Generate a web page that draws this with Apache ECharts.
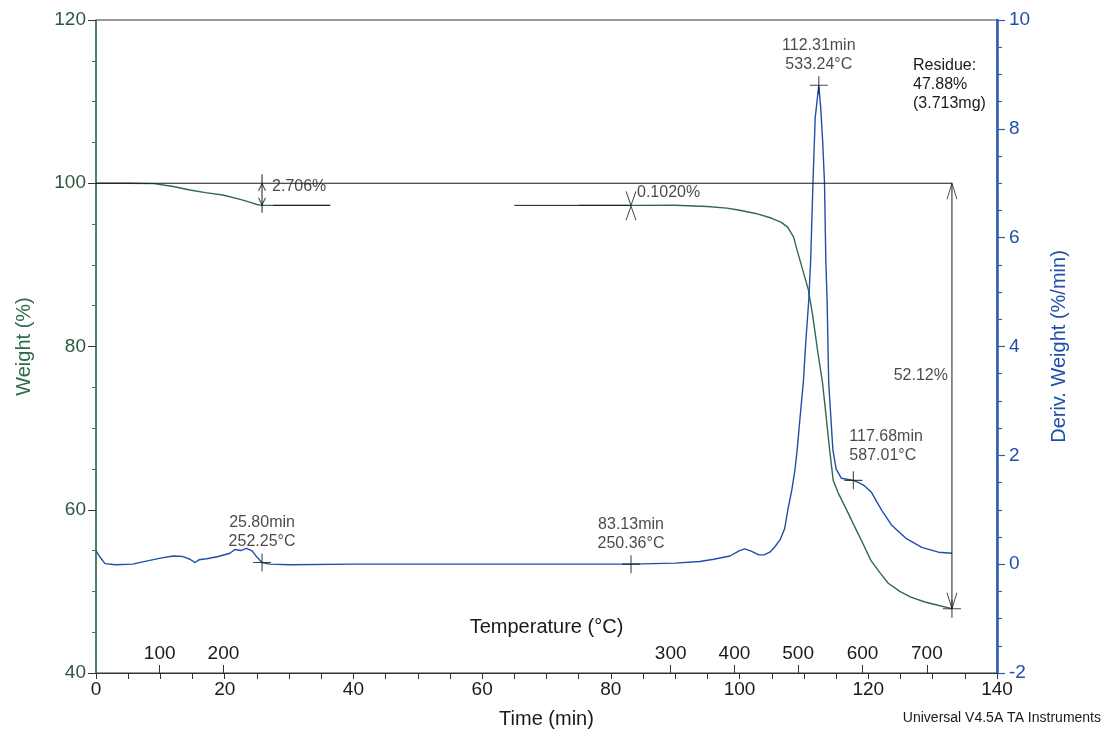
<!DOCTYPE html>
<html><head><meta charset="utf-8">
<script src="https://cdn.jsdelivr.net/npm/echarts@6/dist/echarts.min.js"></script>
<style>html,body{margin:0;padding:0;background:#fff}#c{width:1107px;height:738px}</style>
</head><body><div id="c"></div>
<script>
// ---- data ----
const weightTime = [0, 5, 9, 12, 14.6, 17, 19.7, 22.4, 24, 25, 25.8, 30, 36.4, 65, 75, 83.13, 83.4, 90, 95, 98, 99.8, 102.5, 104.9, 106.5, 107.5, 108.4, 108.9, 109.7, 110.7, 111.4, 112.1, 112.9, 113.45, 114.0, 114.55, 115.3, 116.5, 117.9, 119.2, 120.4, 121.8, 123.1, 124.9, 126.6, 128.8, 130.8, 133];
const weightPct  = [100, 100, 99.95, 99.6, 99.17, 98.85, 98.56, 98.03, 97.65, 97.4, 97.29, 97.29, 97.29, null, 97.29, 97.29, 97.3, 97.3, 97.15, 96.95, 96.72, 96.3, 95.74, 95.2, 94.6, 93.4, 91.9, 89.7, 86.9, 83.6, 79.6, 75.5, 71.4, 67.3, 63.6, 62.1, 60.2, 57.9, 55.8, 53.8, 52.3, 51.0, 50.0, 49.3, 48.7, 48.3, 47.88];

const derivTime = [0, 0.5, 1.4, 3, 5.7, 8, 10, 12, 13.5, 14.6, 15.4, 16, 17.2, 19, 20.8, 21.6, 22.5, 23.4, 24.3, 25, 25.8, 27, 30, 40, 50, 60, 70, 83.13, 90, 93.8, 96, 98.5, 100, 100.8, 101.8, 103, 103.8, 104.7, 105.5, 106.3, 107, 107.5, 108.1, 108.6, 108.95, 109.4, 109.9, 110.3, 110.75, 111.05, 111.4, 111.75, 112.31, 112.6, 112.9, 113.2, 113.4, 113.6, 113.85, 114.5, 115.0, 115.8, 117.68, 118.5, 119.3, 120.5, 121.3, 122.1, 123.6, 125.8, 128.3, 130.9, 133];
const derivVal  = [0.25, 0.15, 0.01, -0.01, 0.0, 0.06, 0.11, 0.15, 0.14, 0.09, 0.03, 0.08, 0.1, 0.14, 0.2, 0.27, 0.25, 0.29, 0.24, 0.13, 0.03, 0.0, -0.01, 0.0, 0.0, 0.0, 0.0, 0.0, 0.02, 0.05, 0.09, 0.15, 0.25, 0.28, 0.24, 0.17, 0.17, 0.22, 0.32, 0.45, 0.65, 1.0, 1.35, 1.73, 2.1, 2.7, 3.33, 4.1, 4.85, 5.59, 7.0, 8.2, 8.8, 8.4, 7.8, 7.0, 5.59, 4.85, 3.33, 2.1, 1.75, 1.58, 1.54, 1.5, 1.45, 1.32, 1.15, 0.99, 0.72, 0.48, 0.31, 0.22, 0.2];

// temperature (°C) tick labels placed at the time where they occur
const tempTickTimes  = [9.9, 19.8, 89.3, 99.2, 109.1, 119.1, 129.1];
const tempTickLabels = ['100', '200', '300', '400', '500', '600', '700'];

// peak / onset markers on the derivative curve
const peakTimes    = [25.8, 83.13, 112.31, 117.68];
const peakDerivs   = [0.03, 0.0, 8.8, 1.54];
const peakTimeText = ['25.80min', '83.13min', '112.31min', '117.68min'];
const peakTempText = ['252.25°C', '250.36°C', '533.24°C', '587.01°C'];

// weight-step annotations
const stepTimes  = [25.8, 83.13];
const stepUpper  = [100, 97.29];
const stepLower  = [97.29, 97.19];
const stepTexts  = ['2.706%', '0.1020%'];
const flatSegStart = [27.5, 65];
const flatSegEnd   = [36.4, 83.13];
const flatLevel    = 97.29;

// residue annotation
const startWeight   = 100;
const residueTime   = 133;
const residueWeight = 47.88;
const lossText      = '52.12%';
const lossLabelAt   = 76.4;
const residueText   = ['Residue:', '47.88%', '(3.713mg)'];

// ---- styles ----
const FONT = 'Liberation Sans, Arial, sans-serif';
const GREEN = '#2e6b48';
const GREEN_TXT = '#2c5a40';
const BLUE = '#1f4fa8';
const BLUE_AX = '#2a5cb8';
const BLACK = '#1a1a1a';

const CROSS = 'path://M0,10L20,10M10,0L10,20';
const CHEV_UP = 'path://M0,10L5,0L10,10';
const CHEV_DOWN = 'path://M0,0L5,10L10,0';

function seg(points, yAxisIndex) {
  return {
    type: 'line', xAxisIndex: 0, yAxisIndex: yAxisIndex || 0, data: points,
    symbol: 'none', silent: true, animation: false,
    lineStyle: { color: BLACK, width: 1 }, z: 5
  };
}

const series = [];
series.push({
  type: 'line', xAxisIndex: 0, yAxisIndex: 0, symbol: 'none', animation: false,
  data: weightTime.map((t, i) => [t, weightPct[i] === null ? '-' : weightPct[i]]),
  lineStyle: { color: GREEN, width: 1.4 }, z: 3
});
series.push({
  type: 'line', xAxisIndex: 0, yAxisIndex: 1, symbol: 'none', animation: false,
  data: derivTime.map((t, i) => [t, derivVal[i]]),
  lineStyle: { color: BLUE, width: 1.4 }, z: 4
});
// 100% reference line
series.push(seg([[0, startWeight], [residueTime, startWeight]]));
// flat black overlay segments
flatSegStart.forEach((s, i) => series.push(seg([[s, flatLevel], [flatSegEnd[i], flatLevel]])));
// first step: vertical bar
series.push(seg([[stepTimes[0], stepUpper[0] + 1.1], [stepTimes[0], stepLower[0] - 0.9]]));
// total loss arrow line
series.push(seg([[residueTime, startWeight], [residueTime, residueWeight]]));

// chevrons
const chevData = [
  { value: [stepTimes[0], stepUpper[0]], symbol: CHEV_UP, symbolSize: [7, 7], symbolOffset: [0, 4] },
  { value: [stepTimes[0], stepLower[0]], symbol: CHEV_DOWN, symbolSize: [7, 7], symbolOffset: [0, -4] },
  { value: [stepTimes[1], stepUpper[1]], symbol: CHEV_DOWN, symbolSize: [10, 14], symbolOffset: [0, -7] },
  { value: [stepTimes[1], stepLower[1]], symbol: CHEV_UP, symbolSize: [10, 14], symbolOffset: [0, 7] },
  { value: [residueTime, startWeight], symbol: CHEV_UP, symbolSize: [10, 16], symbolOffset: [0, 8] },
  { value: [residueTime, residueWeight], symbol: CHEV_DOWN, symbolSize: [10, 16], symbolOffset: [0, -8] },
  { value: [residueTime, residueWeight], symbol: CROSS, symbolSize: [18, 18] }
];
series.push({
  type: 'scatter', xAxisIndex: 0, yAxisIndex: 0, data: chevData, animation: false, silent: true,
  itemStyle: { color: 'rgba(0,0,0,0)', borderColor: BLACK, borderWidth: 1.1 }, z: 6
});

// step texts and loss text
const stepLabelY = [99.6, 98.8];
series.push({
  type: 'scatter', xAxisIndex: 0, yAxisIndex: 0, animation: false, silent: true,
  symbolSize: 0,
  data: stepTimes.map((t, i) => ({
    value: [t, stepLabelY[i]],
    label: { show: true, position: 'right', distance: i === 0 ? 10 : 6, formatter: stepTexts[i] }
  })).concat([{
    value: [residueTime, lossLabelAt],
    label: { show: true, position: 'left', distance: 4, formatter: lossText }
  }]),
  label: { color: BLACK, fontFamily: FONT, fontSize: 16 }, z: 7
});

// peak crosses with labels
series.push({
  type: 'scatter', xAxisIndex: 0, yAxisIndex: 1, animation: false, silent: true,
  symbol: CROSS, symbolSize: [18, 18],
  itemStyle: { color: 'rgba(0,0,0,0)', borderColor: BLACK, borderWidth: 1.1 },
  data: peakTimes.map((t, i) => ({
    value: [t, peakDerivs[i]],
    label: i === 3
      ? { show: true, position: 'top', align: 'left', offset: [-4, 0], distance: 6 }
      : { show: true, position: 'top', distance: 2 }
  })),
  label: {
    color: BLACK, fontFamily: FONT, fontSize: 16, lineHeight: 19,
    formatter: p => peakTimeText[p.dataIndex] + '\n' + peakTempText[p.dataIndex]
  }, z: 7
});

const option = {
  backgroundColor: '#fff',
  animation: false,
  grid: { left: 96, right: 110, top: 20, bottom: 65, show: true, borderColor: '#333', borderWidth: 1 },
  xAxis: [{
    type: 'value', min: 0, max: 140, interval: 20, position: 'bottom',
    name: 'Time (min)', nameLocation: 'middle', nameGap: 36,
    nameTextStyle: { fontFamily: FONT, fontSize: 20, color: BLACK },
    axisLine: { onZero: false, lineStyle: { color: '#333', width: 1.2 } },
    axisTick: { length: 6, lineStyle: { color: '#333' } },
    minorTick: { show: true, splitNumber: 4, length: 6, lineStyle: { color: '#333' } },
    axisLabel: { fontFamily: FONT, fontSize: 19, color: BLACK, margin: 7 },
    splitLine: { show: false }
  }, {
    type: 'value', min: 0, max: 140, position: 'bottom',
    name: 'Temperature (°C)', nameLocation: 'middle', nameGap: -56,
    nameTextStyle: { fontFamily: FONT, fontSize: 20, color: BLACK },
    axisLine: { show: false, onZero: false },
    axisTick: { show: true, inside: true, length: 8, customValues: tempTickTimes, lineStyle: { color: '#333' } },
    axisLabel: {
      show: true, inside: true, margin: 10, customValues: tempTickTimes,
      fontFamily: FONT, fontSize: 19, color: BLACK,
      formatter: v => { const k = tempTickTimes.indexOf(v); return k >= 0 ? tempTickLabels[k] : ''; }
    },
    splitLine: { show: false }
  }],
  yAxis: [{
    type: 'value', min: 40, max: 120, interval: 20, position: 'left',
    name: 'Weight (%)', nameLocation: 'middle', nameGap: 62,
    nameTextStyle: { fontFamily: FONT, fontSize: 20, color: GREEN },
    axisLine: { show: true, onZero: false, lineStyle: { color: '#3a7a4f', width: 1.5 } },
    axisTick: { show: true, length: 8, lineStyle: { color: '#333' } },
    minorTick: { show: true, splitNumber: 4, length: 4, lineStyle: { color: '#3a7a4f' } },
    axisLabel: { fontFamily: FONT, fontSize: 19, color: GREEN_TXT, margin: 10 },
    splitLine: { show: false }
  }, {
    type: 'value', min: -2, max: 10, interval: 2, position: 'right',
    name: 'Deriv. Weight (%/min)', nameLocation: 'middle', nameGap: 52,
    nameTextStyle: { fontFamily: FONT, fontSize: 20, color: BLUE },
    axisLine: { show: true, onZero: false, lineStyle: { color: BLUE_AX, width: 2.5 } },
    axisTick: { show: true, length: 8, lineStyle: { color: BLUE_AX, width: 1.2 } },
    minorTick: { show: true, splitNumber: 4, length: 5, lineStyle: { color: BLUE_AX, width: 1.2 } },
    axisLabel: { fontFamily: FONT, fontSize: 19, color: BLUE, margin: 12 },
    splitLine: { show: false }
  }],
  graphic: [{
    type: 'text', left: 913, top: 56,
    style: { text: residueText.join('\n'), font: '16px ' + FONT, fill: BLACK, lineHeight: 19 }
  }, {
    type: 'text', right: 6, top: 711,
    style: { text: 'Universal V4.5A TA Instruments', font: '14px ' + FONT, fill: BLACK }
  }],
  series: series
};

const chart = echarts.init(document.getElementById('c'), null, { renderer: 'canvas' });
chart.setOption(option);
</script>
</body></html>
